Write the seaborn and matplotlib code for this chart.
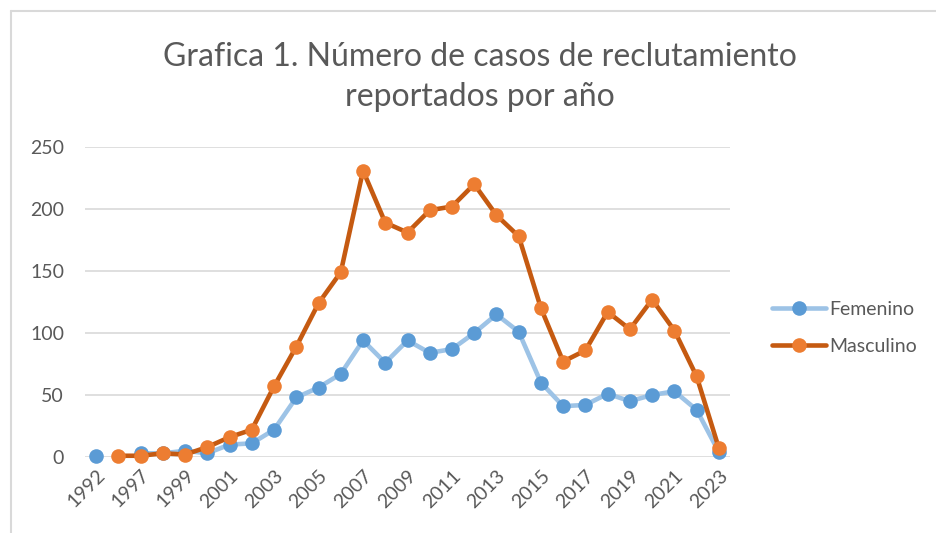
import numpy as np
import pandas as pd
import matplotlib
matplotlib.use("Agg")
import matplotlib.pyplot as plt
from matplotlib.lines import Line2D
import seaborn as sns

years = [1992, 1996, 1997, 1998, 1999, 2000, 2001, 2002, 2003, 2004, 2005, 2006,
         2007, 2008, 2009, 2010, 2011, 2012, 2013, 2014, 2015, 2016, 2017, 2018,
         2019, 2020, 2021, 2022, 2023]
femenino = [1, np.nan, 3, 3, 5, 3, 10, 11, 22, 48, 56, 67,
            94, 76, 94, 84, 87, 100, 115, 101, 60, 41, 42, 51,
            45, 50, 53, 38, 4]
masculino = [np.nan, 1, 1, 3, 2, 8, 16, 22, 57, 89, 124, 149,
             231, 189, 181, 199, 202, 220, 195, 178, 120, 77, 86, 117,
             103, 127, 102, 65, 7]
title = "Grafica 1. Número de casos de reclutamiento\nreportados por año"

sns.set_theme(style="white")
plt.rcParams['font.family'] = ['Lato', 'DejaVu Sans']

fig = plt.figure(figsize=(9.36, 5.33), dpi=100)
ax = fig.add_axes([85/936, (533-457)/533, 645/936, 310/533])

pos = np.arange(len(years))


def segments(values):
    v = np.asarray(values, dtype=float)
    seg = np.cumsum(np.isnan(v))
    d = pd.DataFrame({"pos": pos, "val": v, "seg": seg})
    return d.dropna()


styles = [
    (femenino, "#9DC3E6", "#5B9BD5", 3),
    (masculino, "#C55A11", "#ED7D31", 4),
]
for vals, lc, mc, z in styles:
    d = segments(vals)
    sns.lineplot(data=d, x="pos", y="val", units="seg", estimator=None, ax=ax,
                 color=lc, linewidth=3.3, marker="o", markersize=10.5,
                 markerfacecolor=mc, markeredgewidth=0, clip_on=False,
                 zorder=z, legend=False)

ax.set_xlim(-0.5, len(years) - 0.5)
ax.set_ylim(0, 250)
ax.set_yticks([0, 50, 100, 150, 200, 250])
ax.yaxis.grid(True, color="#D9D9D9", linewidth=1.2)
ax.set_axisbelow(True)
for s in ax.spines.values():
    s.set_visible(False)
ax.set_xticks(pos[::2])
ax.set_xticklabels([str(y) for y in years[::2]], rotation=45, ha="right",
                   rotation_mode="anchor")
ax.tick_params(axis="both", length=0, labelsize=14, colors="#595959")
ax.tick_params(axis="y", pad=15)
ax.tick_params(axis="x", pad=7)
ax.set_xlabel("")
ax.set_ylabel("")

fig.text(480/936, 1 - 77/533, title, ha="center", va="center", fontsize=23,
         color="#595959", linespacing=1.4)

handles = [
    Line2D([], [], color="#9DC3E6", linewidth=3.3, marker="o", markersize=10.5,
           markerfacecolor="#5B9BD5", markeredgewidth=0),
    Line2D([], [], color="#C55A11", linewidth=3.3, marker="o", markersize=10.5,
           markerfacecolor="#ED7D31", markeredgewidth=0),
]
leg = fig.legend(handles, ["Femenino", "Masculino"], loc="center left",
                 bbox_to_anchor=(754/936, 1 - 328/533), frameon=False,
                 fontsize=14, handlelength=2.8, handletextpad=0.15,
                 labelspacing=1.0, labelcolor="#595959")

# chart border
fig.add_artist(Line2D([11/936, 11/936], [0, 1 - 11/533], color="#D9D9D9",
                      linewidth=1.5, transform=fig.transFigure))
fig.add_artist(Line2D([11/936, 1], [1 - 11/533, 1 - 11/533], color="#D9D9D9",
                      linewidth=1.5, transform=fig.transFigure))

fig.savefig("out.png", dpi=100, facecolor="white")
